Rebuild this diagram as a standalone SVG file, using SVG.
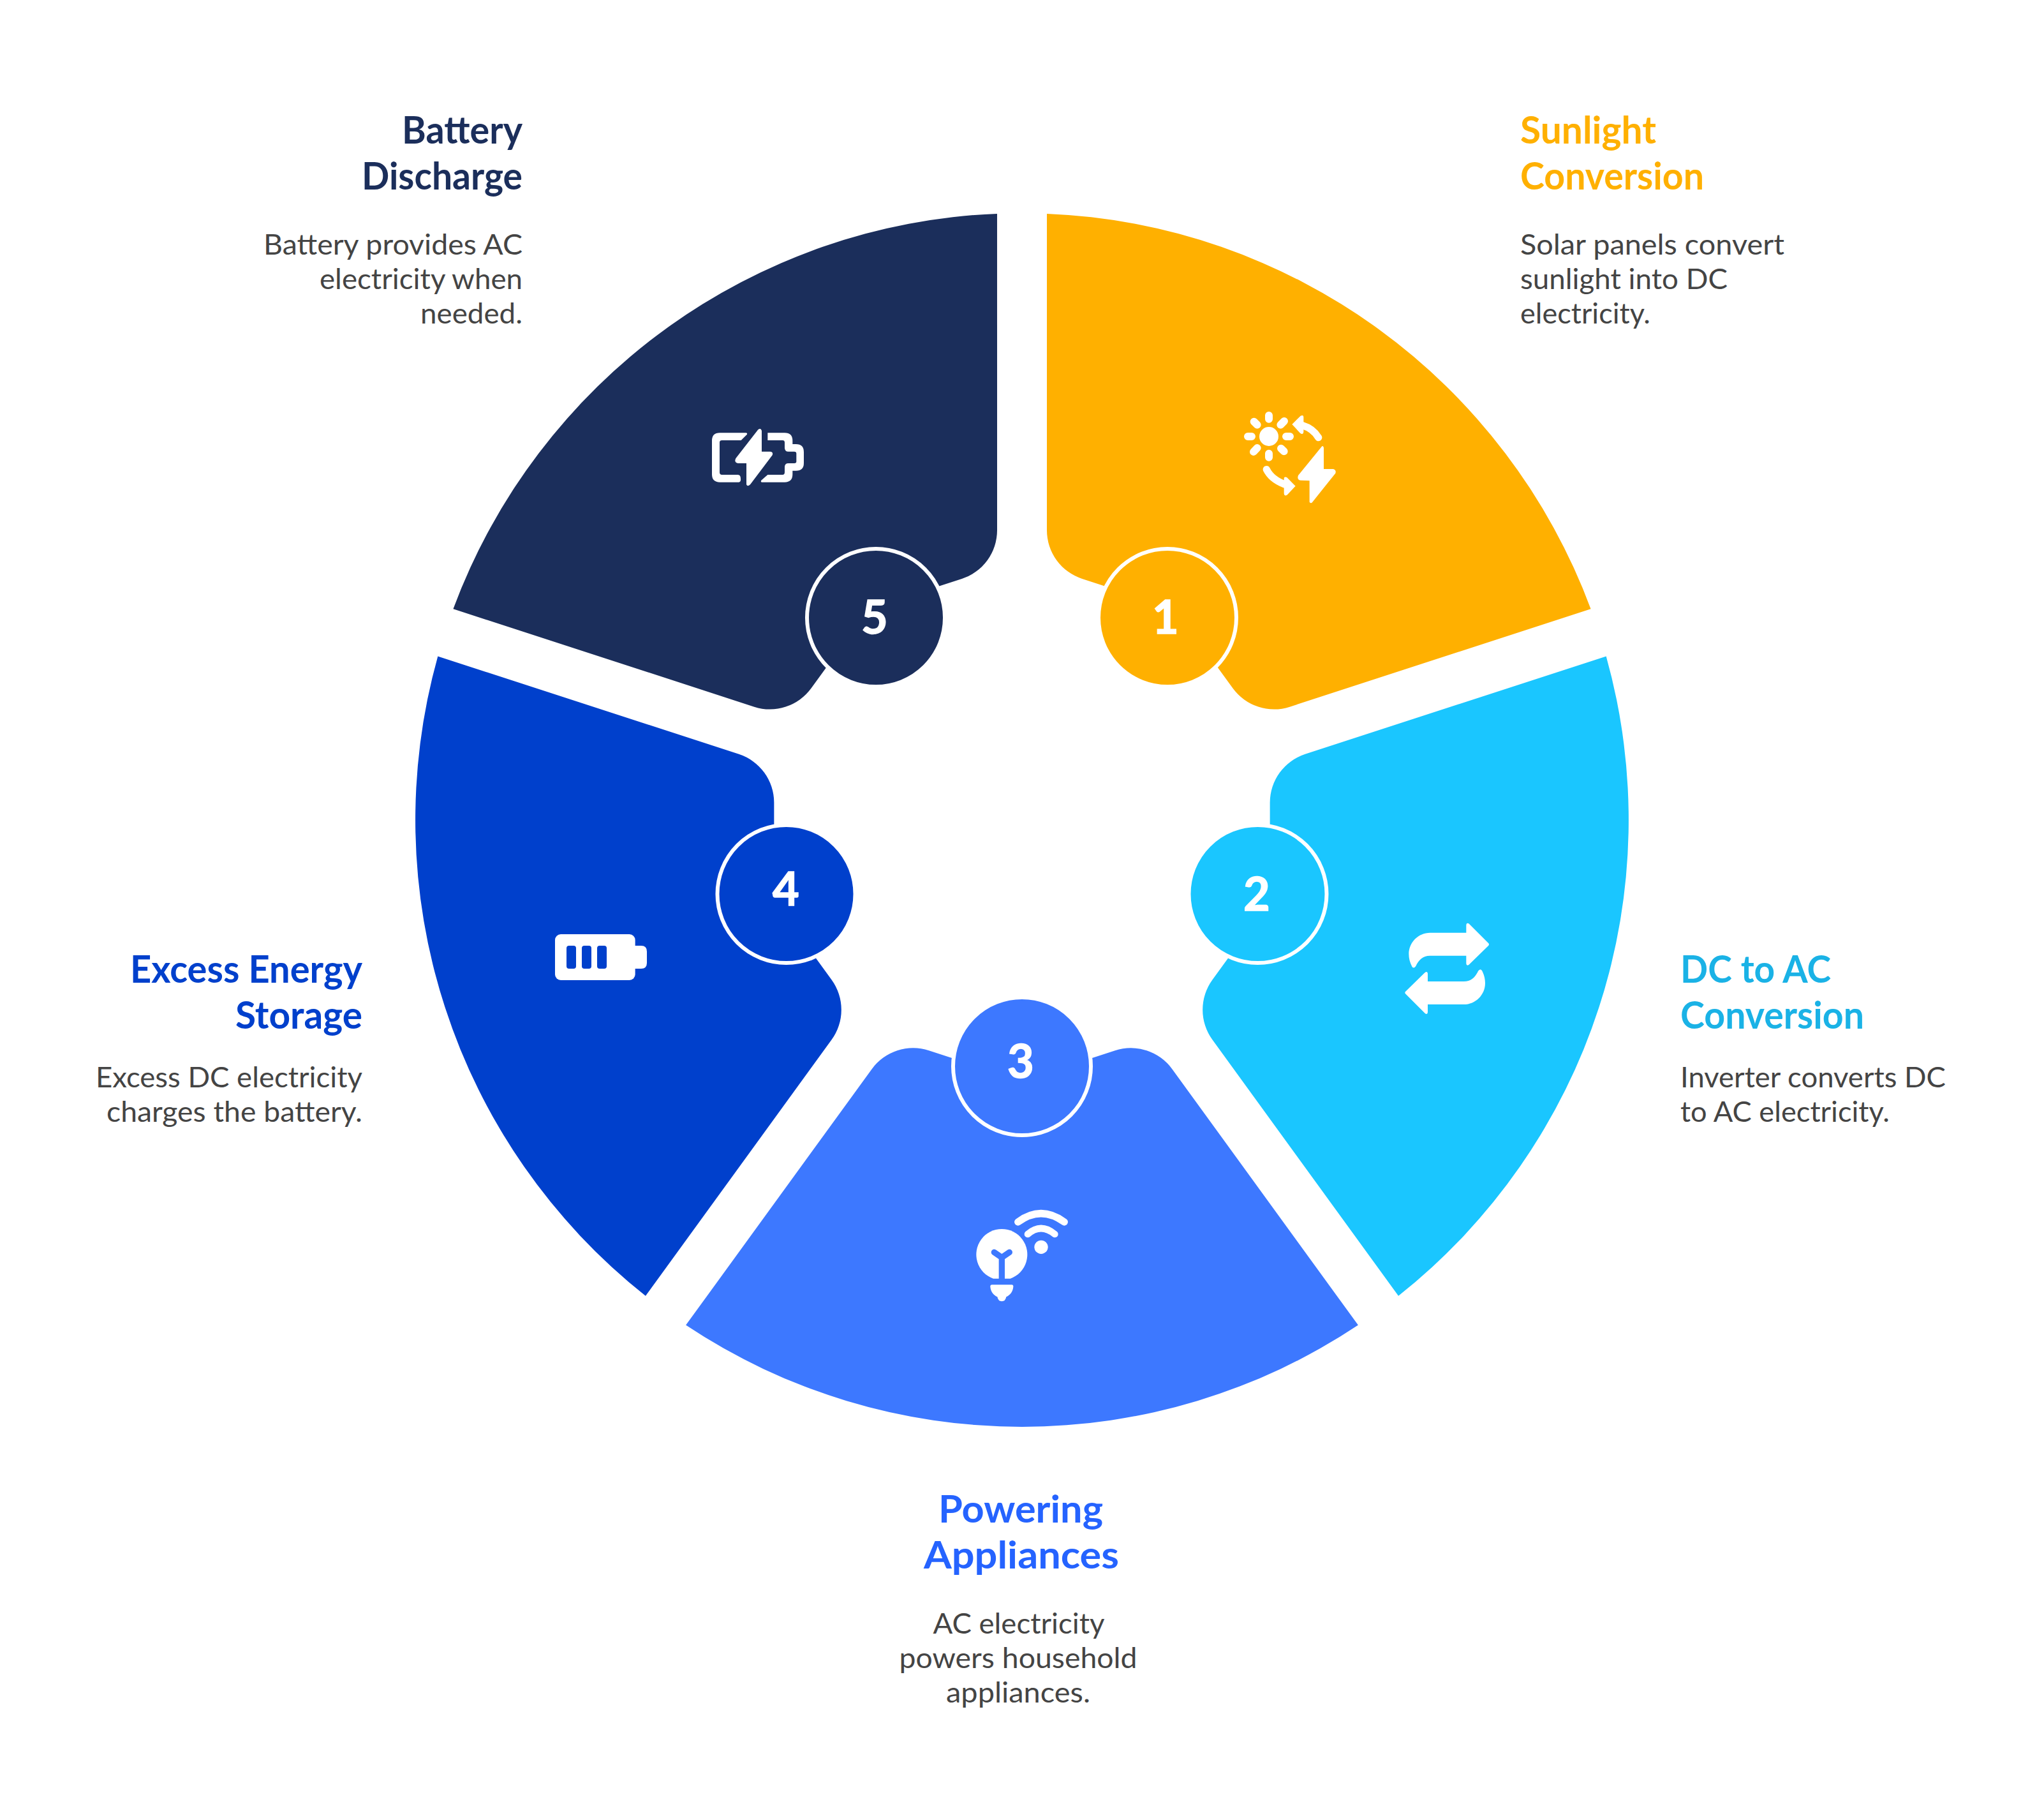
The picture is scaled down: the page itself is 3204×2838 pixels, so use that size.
<svg xmlns="http://www.w3.org/2000/svg" width="3204" height="2838" viewBox="0 0 3204 2838">
<style>
.t{font-family:"Lato","Liberation Sans",sans-serif;font-weight:700;font-size:60px}
.b{font-family:"Lato","Liberation Sans",sans-serif;font-weight:400;font-size:44px;fill:#444}
.n{font-family:"Lato","Liberation Sans",sans-serif;font-weight:700;font-size:72px;fill:#fff;stroke:#fff;stroke-width:1.5px;text-anchor:middle}
.e{text-anchor:end}.m{text-anchor:middle}
.c{stroke:#fff;stroke-width:6}
.w{fill:#fff}
.l{fill:none;stroke:#fff;stroke-linecap:round}
</style>
<defs>
<path id="sector" d="M526.9,791.6 A951,951 0 0 1 -526.9,791.6 L-235.3,390.2 A80,80 0 0 1 -146,361.2 L0,408.7 L146,361.2 A80,80 0 0 1 235.3,390.2 Z"/>
</defs>
<rect width="3204" height="2838" fill="#fff"/>
<g id="node-1">
<use href="#sector" transform="translate(1602 1285) rotate(-144)" fill="#FFB000"/>
<circle class="c" cx="1830" cy="968" r="108" fill="#FFB000"/>
<text class="n" x="1827" y="993">1</text>
<g transform="translate(1900 620) scale(.33333)">
<circle class="w" cx="267" cy="192" r="45"/>
<path class="l" stroke-width="36" d="M267,93V110M267,272V290M168,192H186M348,192H366M197,122L212,137M339,120L322,137M195,264L212,246M338,262L324,248"/>
<path class="l" stroke-width="34" d="M500,197Q475,155 425,140M256,347Q280,395 345,418"/>
<path class="w" d="M376,135L416,95Q430,88 430,102V170Q428,186 414,176ZM392,425L352,385Q338,378 338,392V460Q340,476 354,466Z"/>
<path class="w" d="M515,240L405,375Q398,395 415,398L458,400V500Q465,510 472,500L580,365Q585,350 570,345L525,345V245Q522,232 515,240Z"/>
</g>
</g>
<g id="node-2">
<use href="#sector" transform="translate(1602 1285) rotate(-72)" fill="#1AC6FF"/>
<circle class="c" cx="1971.500" cy="1401" r="108" fill="#1AC6FF"/>
<text class="n" x="1970" y="1427">2</text>
<g transform="translate(2170 1420) scale(.33333)">
<path id="ar" class="w" d="M397,82L490,175Q494,180 490,185L397,276Q386,282 385,270V233H215C180,233 160,255 148,282Q138,296 130,284C120,265 115,245 115,225C115,170 160,125 215,125H385V90Q386,76 397,82Z"/>
<use href="#ar" transform="rotate(180 294.5 293.5)"/>
</g>
</g>
<g id="node-3">
<use href="#sector" transform="translate(1602 1285)" fill="#3D78FF"/>
<circle class="c" cx="1602" cy="1671" r="108" fill="#3D78FF"/>
<text class="n" x="1600" y="1689">3</text>
<g transform="translate(1500 1870) scale(.33333)">
<path class="l" stroke-width="34" d="M287,135Q395,55 505,135"/>
<path class="l" stroke-width="32" d="M333,192Q395,138 460,192"/>
<circle class="w" cx="396" cy="253" r="32"/>
<path class="w" d="M171,401A120,120 0 1 1 251,401Z"/>
<path d="M175,277L211,302L247,277M211,302V402" fill="none" stroke="#3D78FF" stroke-width="28" stroke-linecap="round" stroke-linejoin="round"/>
<path class="w" d="M165,430H258Q266,430 265,440C262,465 250,478 232,487Q228,508 211,508Q194,508 190,487C172,478 160,465 157,440Q156,430 165,430Z"/>
</g>
</g>
<g id="node-4">
<use href="#sector" transform="translate(1602 1285) rotate(72)" fill="#0040CC"/>
<circle class="c" cx="1232.500" cy="1401" r="108" fill="#0040CC"/>
<text class="n" x="1232" y="1419">4</text>
<g transform="translate(850 1440) scale(.33333)">
<rect class="w" x="60" y="72" width="377" height="216" rx="27"/>
<path class="w" d="M430,126H465Q492,126 492,153V207Q492,234 465,234H430Z"/>
<g fill="#0040CC"><rect x="114" y="126" width="45" height="108" rx="12"/><rect x="186" y="126" width="45" height="108" rx="12"/><rect x="258" y="126" width="45" height="108" rx="12"/></g>
</g>
</g>
<g id="node-5">
<use href="#sector" transform="translate(1602 1285) rotate(144)" fill="#1B2E5B"/>
<circle class="c" cx="1373" cy="968" r="108" fill="#1B2E5B"/>
<text class="n" x="1371" y="993">5</text>
<g transform="translate(1100 660) scale(.33333)">
<path class="w" d="M207,55H85Q48,55 48,92V250Q48,287 85,287H175Q185,285 183,270Q183,252 170,252H95Q84,252 84,240V100Q84,90 95,90H185L213,62Q215,55 207,55Z"/>
<path class="w" d="M310,55H390Q427,55 427,92V108H443Q480,108 480,145V197Q480,233 443,233H427V250Q427,287 390,287H282Q276,285 280,278L310,252H380Q390,252 390,240V215Q390,198 408,198H435Q445,198 445,190V152Q445,143 435,143H408Q390,143 390,125V100Q390,90 380,90H310Z"/>
<path class="w" d="M265,40L160,175Q150,195 170,198H210V298Q215,310 228,298L332,160Q338,145 322,143H282V45Q278,30 265,40Z"/>
</g>
</g>
<g id="label-1">
<text class="t" x="2383" y="225" fill="#FFB000" textLength="213" lengthAdjust="spacingAndGlyphs">Sunlight</text>
<text class="t" x="2383" y="297" fill="#FFB000" textLength="288" lengthAdjust="spacingAndGlyphs">Conversion</text>
<text class="b" x="2383" y="399" textLength="414" lengthAdjust="spacingAndGlyphs">Solar panels convert</text>
<text class="b" x="2383" y="453" textLength="325" lengthAdjust="spacingAndGlyphs">sunlight into DC</text>
<text class="b" x="2383" y="507" textLength="204" lengthAdjust="spacingAndGlyphs">electricity.</text>
</g>
<g id="label-2">
<text class="t" x="2634" y="1540" fill="#1AB2E6" textLength="236" lengthAdjust="spacingAndGlyphs">DC to AC</text>
<text class="t" x="2634" y="1612" fill="#1AB2E6" textLength="288" lengthAdjust="spacingAndGlyphs">Conversion</text>
<text class="b" x="2634" y="1704" textLength="416" lengthAdjust="spacingAndGlyphs">Inverter converts DC</text>
<text class="b" x="2634" y="1758" textLength="328" lengthAdjust="spacingAndGlyphs">to AC electricity.</text>
</g>
<g id="label-3">
<text class="t m" x="1600" y="2386" fill="#2563FF" textLength="258" lengthAdjust="spacingAndGlyphs">Powering</text>
<text class="t m" x="1601" y="2458" fill="#2563FF" textLength="306" lengthAdjust="spacingAndGlyphs">Appliances</text>
<text class="b m" x="1597" y="2560" textLength="269" lengthAdjust="spacingAndGlyphs">AC electricity</text>
<text class="b m" x="1596" y="2614" textLength="373" lengthAdjust="spacingAndGlyphs">powers household</text>
<text class="b m" x="1596" y="2668" textLength="226" lengthAdjust="spacingAndGlyphs">appliances.</text>
</g>
<g id="label-4">
<text class="t e" x="568" y="1540" fill="#0040CC" textLength="364" lengthAdjust="spacingAndGlyphs">Excess Energy</text>
<text class="t e" x="568" y="1612" fill="#0040CC" textLength="199" lengthAdjust="spacingAndGlyphs">Storage</text>
<text class="b e" x="568" y="1704" textLength="418" lengthAdjust="spacingAndGlyphs">Excess DC electricity</text>
<text class="b e" x="568" y="1758" textLength="401" lengthAdjust="spacingAndGlyphs">charges the battery.</text>
</g>
<g id="label-5">
<text class="t e" x="819" y="225" fill="#1B2E5B" textLength="189" lengthAdjust="spacingAndGlyphs">Battery</text>
<text class="t e" x="819" y="297" fill="#1B2E5B" textLength="252" lengthAdjust="spacingAndGlyphs">Discharge</text>
<text class="b e" x="819" y="399" textLength="406" lengthAdjust="spacingAndGlyphs">Battery provides AC</text>
<text class="b e" x="819" y="453" textLength="318" lengthAdjust="spacingAndGlyphs">electricity when</text>
<text class="b e" x="819" y="507" textLength="160" lengthAdjust="spacingAndGlyphs">needed.</text>
</g>
</svg>
